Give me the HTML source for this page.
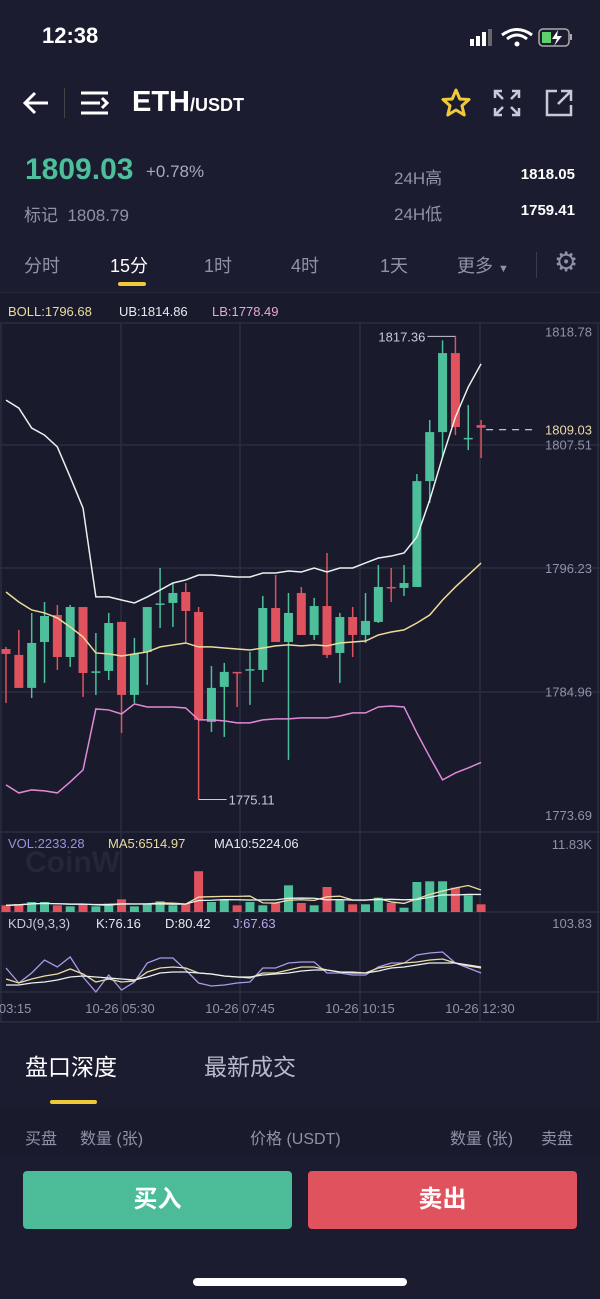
<!DOCTYPE html>
<html><head><meta charset="utf-8">
<style>
*{margin:0;padding:0;box-sizing:border-box}
body{width:600px;height:1299px;background:#1c1c30;font-family:"Liberation Sans","Noto Sans CJK SC",sans-serif;color:#fff;position:relative;overflow:hidden}
.a{position:absolute;white-space:nowrap}
.g{color:#8f92a8}
</style></head><body>
<div class="a" style="left:42px;top:23px;font-size:22px;font-weight:bold">12:38</div>
<svg class="a" style="left:468px;top:26px" width="110" height="24">
<rect x="2" y="13" width="4" height="7" fill="#fff"/><rect x="8" y="10" width="4" height="10" fill="#fff"/><rect x="14" y="6" width="4" height="14" fill="#fff"/><rect x="20" y="3" width="4" height="17" fill="#666"/>
<path d="M34 9 Q49 -2 64 9" stroke="#fff" stroke-width="3" fill="none"/><path d="M39 13 Q49 5 59 13" stroke="#fff" stroke-width="3" fill="none"/><circle cx="49" cy="18" r="2.5" fill="#fff"/>
<rect x="71" y="3" width="30" height="17" rx="4" stroke="#aaa" fill="none" stroke-width="1.5"/><rect x="74" y="6" width="9" height="11" fill="#5ed16a"/><path d="M90 4 L84 13 L89 13 L86 20 L94 10 L89 10 Z" fill="#fff"/><rect x="102" y="8" width="2" height="6" fill="#aaa"/>
</svg>
<svg class="a" style="left:22px;top:90px" width="28" height="26"><path d="M3 13 H26 M13 3 L3 13 L13 23" stroke="#fff" stroke-width="3" fill="none"/></svg>
<div class="a" style="left:64px;top:88px;width:1px;height:30px;background:#444"></div>
<svg class="a" style="left:80px;top:90px" width="30" height="26"><path d="M1 3H28M1 13H20M1 23H28M22 8L27 13L22 18" stroke="#fff" stroke-width="3" fill="none"/></svg>
<div class="a" style="left:132px;top:86px;font-size:29px;font-weight:bold">ETH<span style="font-size:18px">/USDT</span></div>
<svg class="a" style="left:441px;top:88px" width="30" height="30"><polygon points="15,2 18.8,11 28,11.5 21,17.8 23.2,27 15,22 6.8,27 9,17.8 2,11.5 11.2,11" fill="none" stroke="#f0c93a" stroke-width="3" stroke-linejoin="round"/></svg>
<svg class="a" style="left:493px;top:89px" width="28" height="28"><path d="M2 9V2H9M2 2L10 10M26 9V2H19M26 2L18 10M2 19V26H9M2 26L10 18M26 19V26H19M26 26L18 18" stroke="#c8cad8" stroke-width="2.5" fill="none"/></svg>
<svg class="a" style="left:544px;top:88px" width="30" height="30"><path d="M13 3H3V27H27V17M17 3H27V13M27 3L14 16" stroke="#c8cad8" stroke-width="2.5" fill="none"/></svg>
<div class="a" style="left:25px;top:153px;font-size:30px;font-weight:bold;color:#4dbf9a">1809.03</div>
<div class="a g" style="left:146px;top:162px;font-size:17px;color:#a8aabb">+0.78%</div>
<div class="a g" style="left:24px;top:201px;font-size:17px">标记 &nbsp;1808.79</div>
<div class="a g" style="left:394px;top:164px;font-size:17px">24H高</div>
<div class="a" style="right:25px;top:166px;font-size:15px;font-weight:bold">1818.05</div>
<div class="a g" style="left:394px;top:200px;font-size:17px">24H低</div>
<div class="a" style="right:25px;top:202px;font-size:15px;font-weight:bold">1759.41</div>
<div class="a g" style="left:24px;top:252px;font-size:18px">分时</div>
<div class="a" style="left:110px;top:252px;font-size:18px">15分</div>
<div class="a" style="left:118px;top:282px;width:28px;height:4px;border-radius:2px;background:#f0c93a"></div>
<div class="a g" style="left:204px;top:252px;font-size:18px">1时</div>
<div class="a g" style="left:291px;top:252px;font-size:18px">4时</div>
<div class="a g" style="left:380px;top:252px;font-size:18px">1天</div>
<div class="a g" style="left:457px;top:252px;font-size:18px">更多 <span style="font-size:11px">▼</span></div>
<div class="a" style="left:536px;top:252px;width:1px;height:26px;background:#3a3b50"></div>
<div class="a g" style="left:554px;top:247px;font-size:27px">⚙</div>

<svg id="chart" class="a" style="left:0;top:292px" width="600" height="732" viewBox="0 292 600 732"></svg>

<div class="a" style="left:25px;top:1048px;font-size:23px">盘口深度</div>
<div class="a g" style="left:204px;top:1048px;font-size:23px;color:#b8bacb">最新成交</div>
<div class="a" style="left:50px;top:1100px;width:47px;height:4px;border-radius:2px;background:#f0c93a"></div>
<div class="a" style="left:0;top:1110px;width:600px;height:45px;background:#1a1a2d"></div>
<div class="a g" style="left:25px;top:1125px;font-size:16px">买盘</div>
<div class="a g" style="left:80px;top:1125px;font-size:16px">数量 (张)</div>
<div class="a g" style="left:250px;top:1125px;font-size:16px">价格 (USDT)</div>
<div class="a g" style="left:450px;top:1125px;font-size:16px">数量 (张)</div>
<div class="a g" style="left:541px;top:1125px;font-size:16px">卖盘</div>
<div class="a" style="left:23px;top:1171px;width:269px;height:58px;border-radius:4px;background:#4bbb98;text-align:center;line-height:58px;font-size:24px;font-weight:bold">买入</div>
<div class="a" style="left:308px;top:1171px;width:269px;height:58px;border-radius:4px;background:#e0525e;text-align:center;line-height:58px;font-size:24px;font-weight:bold">卖出</div>
<div class="a" style="left:193px;top:1278px;width:214px;height:8px;border-radius:4px;background:#fff"></div>

<script>
const opens=[1788.84,1788.30,1785.29,1789.48,1791.94,1788.11,1792.67,1786.75,1786.84,1791.31,1784.65,1788.57,1792.95,1793.04,1794.04,1792.22,1782.19,1785.38,1786.75,1786.93,1786.93,1792.58,1789.48,1793.95,1790.12,1792.76,1788.48,1791.76,1790.12,1791.31,1794.50,1794.41,1794.50,1804.16,1808.63,1815.84,1808.0,1809.27];
const highs=[1789.03,1790.58,1792.13,1793.13,1792.86,1792.86,1792.67,1790.30,1792.13,1791.31,1789.85,1792.67,1796.23,1794.86,1794.86,1792.67,1787.29,1787.57,1786.75,1788.57,1793.68,1795.59,1793.95,1794.5,1793.5,1797.60,1792.13,1792.67,1793.95,1796.50,1796.23,1796.50,1804.80,1809.73,1817.0,1817.36,1811.10,1809.73];
const lows=[1783.92,1785.29,1784.37,1785.74,1786.93,1787.20,1784.47,1784.65,1786.02,1781.18,1783.92,1785.56,1790.76,1790.85,1789.39,1775.11,1781.27,1780.82,1783.55,1783.74,1785.83,1789.48,1778.72,1790.12,1789.66,1788.02,1785.74,1788.11,1789.39,1791.21,1793.13,1793.68,1794.50,1802.16,1806.35,1808.36,1806.99,1806.26];
const closes=[1788.39,1785.29,1789.39,1791.85,1788.11,1792.67,1786.65,1786.80,1791.21,1784.65,1788.39,1792.67,1793.0,1793.95,1792.31,1782.37,1785.29,1786.75,1786.70,1787.0,1792.58,1789.48,1792.13,1790.12,1792.76,1788.30,1791.76,1790.12,1791.40,1794.50,1794.45,1794.86,1804.16,1808.63,1815.84,1809.09,1808.1,1809.03];
const bollUB=[1811.55,1810.82,1809.0,1808.36,1807.27,1804.53,1801.70,1793.59,1793.59,1793.31,1793.04,1793.59,1794.22,1794.86,1795.14,1795.59,1795.59,1795.50,1795.41,1795.41,1795.77,1795.77,1795.96,1795.87,1796.23,1795.87,1796.23,1796.23,1796.69,1797.14,1797.32,1797.60,1799.06,1802.43,1806.35,1810.0,1812.74,1814.86];
const bollMID=[1794.04,1793.13,1792.40,1792.13,1791.67,1790.85,1789.94,1788.48,1788.39,1788.20,1788.39,1788.57,1789.03,1789.21,1789.39,1789.03,1789.03,1788.93,1788.84,1788.75,1788.93,1789.12,1789.21,1789.12,1789.21,1789.12,1789.39,1789.48,1789.57,1790.12,1790.39,1790.58,1791.21,1791.94,1793.31,1794.50,1795.59,1796.68];
const bollLB=[1776.44,1775.71,1775.98,1775.89,1775.71,1776.71,1777.81,1783.37,1783.28,1782.91,1783.83,1783.55,1783.55,1783.55,1783.46,1782.37,1782.37,1782.28,1782.10,1782.10,1782.37,1782.46,1782.46,1782.55,1782.55,1782.55,1782.73,1783.01,1783.01,1783.55,1783.64,1783.55,1781.18,1778.99,1776.90,1777.53,1777.99,1778.49];
const volumes=[1940,2230,2900,2900,1940,1650,2230,1650,2410,3680,1650,2410,3100,1940,2410,11830,2900,3570,1940,2900,1940,2610,7740,2610,1940,7250,3390,2230,2230,4150,2610,1250,8700,8900,8900,7050,4840,2233];
const kdjK=[60.8,54.4,60.8,65.6,68.8,76.8,68.8,56,60.8,56,57.6,72,78.4,80,78.4,70.4,68.8,65.6,64,62.4,70.4,70.4,75.2,80,80,75.2,72,72,70.4,78.4,81.6,86.4,88,91.2,92.8,86.4,81.6,78.4];
const kdjD=[51.2,51.2,54.4,56,59.2,64,65.6,64,62.4,60.8,59.2,64,70.4,72,72,70.4,68.8,65.6,64,64,67.2,68.8,70.4,73.6,75.2,75.2,72,70.4,70.4,73.6,78.4,80,83.2,86.4,86.4,86.4,83.2,80];
const kdjJ=[78.4,54.4,70.4,91.2,80,96,64,40,67.2,43.2,56,86.4,94.4,94.4,75.2,54.4,49.6,51.2,54.4,56,78.4,78.4,86.4,88,88,70.4,70.4,67.2,67.2,80,86.4,86.4,99.2,102.4,104,86.4,78.4,70.4];
const priceTicks=["1818.78","1796.23","1784.96","1773.69"];
const priceTickVals=[1818.78,1796.23,1784.96,1773.69];
const timeLabels=["10-26 03:15","10-26 05:30","10-26 07:45","10-26 10:15","10-26 12:30"];

const NS="http://www.w3.org/2000/svg";
const svg=document.getElementById('chart');
const xAt=i=>6+i*12.84;
const yP=p=>568-(p-1796.23)*10.96;
const yV=v=>912-v/290;
const yK=v=>967-(v-80)/1.6;
const GREEN="#4dbf9a",RED="#e0525e";
function mk(tag,attrs){const e=document.createElementNS(NS,tag);for(const k in attrs)e.setAttribute(k,attrs[k]);svg.appendChild(e);return e;}
function txt(x,y,s,fill,size,anchor){const t=mk('text',{x:x,y:y,fill:fill,'font-size':size,'font-family':'Liberation Sans, sans-serif','text-anchor':anchor||'start'});t.textContent=s;return t;}

let e=mk('rect',{x:0,y:292,width:600,height:732,fill:'#191a2c'});


[292,323,445,568,692,832,912,992,1022].forEach(y=>{const l=mk('line',{x1:0,x2:600,y1:y,y2:y,stroke:'#2b2c42','stroke-width':1.5});

});
[1,121,240,360,480,598].forEach(x=>{const l=mk('line',{x1:x,x2:x,y1:323,y2:1022,stroke:'#2b2c42','stroke-width':1.5});

});

e=txt(25,872,'CoinW','#24263a',30);


e.setAttribute('font-weight','bold');

e=txt(8,316,'BOLL:1796.68','#ecdca0',13);


e=txt(119,316,'UB:1814.86','#e8e8f0',13);


e=txt(212,316,'LB:1778.49','#e9a6d8',13);



priceTicks.forEach((s,i)=>{const t=txt(592,(i===0?yP(1817.8):yP(priceTickVals[i]))+5,s,'#8f92a8',13,'end');

});
e=txt(592,yP(1807.5)+5,'1807.51','#8f92a8',13,'end');



function line(arr,yf,color,name,w){const pts=arr.map((v,i)=>xAt(i)+','+yf(v)).join(' ');const p=mk('polyline',{points:pts,fill:'none',stroke:color,'stroke-width':w||1.5});

}

opens.forEach((o,i)=>{const c=closes[i];const col=c>=o?GREEN:RED;const x=xAt(i);
const w=mk('line',{x1:x,x2:x,y1:yP(highs[i]),y2:yP(lows[i]),stroke:col,'stroke-width':1.5});


const top=yP(Math.max(o,c)),bot=yP(Math.min(o,c));
const b=mk('rect',{x:x-4.5,y:top,width:9,height:Math.max(1.5,bot-top),fill:col});

});

line(bollUB,yP,'#e8f2ee','boll-upper-line');
line(bollMID,yP,'#ecdc9a','boll-mid-line');
line(bollLB,yP,'#e08ad6','boll-lower-line');

let hi=0,lo=0;highs.forEach((h,i)=>{if(h>highs[hi])hi=i});lows.forEach((l,i)=>{if(l<lows[lo])lo=i});
e=mk('line',{x1:xAt(hi)-28,x2:xAt(hi),y1:yP(highs[hi]),y2:yP(highs[hi]),stroke:'#c8cad8','stroke-width':1});


e=txt(xAt(hi)-30,yP(highs[hi])+5,highs[hi].toFixed(2),'#c8cad8',13,'end');


e=mk('line',{x1:xAt(lo),x2:xAt(lo)+28,y1:yP(lows[lo]),y2:yP(lows[lo]),stroke:'#c8cad8','stroke-width':1});


e=txt(xAt(lo)+30,yP(lows[lo])+5,lows[lo].toFixed(2),'#c8cad8',13);



const last=closes[closes.length-1];
e=mk('line',{x1:xAt(closes.length-1)+5,x2:536,y1:yP(last)+2,y2:yP(last)+2,stroke:'#d8d8e0','stroke-width':1.2,'stroke-dasharray':'7,6'});


e=mk('rect',{x:537,y:yP(last)-7,width:58,height:17,fill:'#191a2c'});


e=txt(592,yP(last)+7,last.toFixed(2),'#ecd9a6',13,'end');



e=txt(8,848,'VOL:2233.28','#9d8fe0',13);


e=txt(108,848,'MA5:6514.97','#ecdca0',13);


e=txt(214,848,'MA10:5224.06','#e8e8f0',13);


e=txt(592,849,'11.83K','#8f92a8',13,'end');


volumes.forEach((v,i)=>{const col=closes[i]>=opens[i]?GREEN:RED;
const r=mk('rect',{x:xAt(i)-4.5,y:yV(v),width:9,height:912-yV(v),fill:col});

});
function ma(arr,n){return arr.map((v,i)=>{const s=arr.slice(Math.max(0,i-n+1),i+1);return s.reduce((a,b)=>a+b,0)/s.length;});}
line(ma(volumes,5),yV,'#ecdca0','vol-ma5-line',1.3);
line(ma(volumes,10),yV,'#e8f2ee','vol-ma10-line',1.3);

e=txt(8,928,'KDJ(9,3,3)','#c8cad8',13);


e=txt(96,928,'K:76.16','#e8e8f0',13);


e=txt(165,928,'D:80.42','#e8e8f0',13);


e=txt(233,928,'J:67.63','#b7a8ea',13);


e=txt(592,928,'103.83','#8f92a8',13,'end');


line(kdjJ,yK,'#a99be6','kdj-j-line',1.3);
line(kdjK,yK,'#ecdca0','kdj-k-line',1.3);
line(kdjD,yK,'#e8f2ee','kdj-d-line',1.3);

[0,120,240,360,480].forEach((x,i)=>{const t=txt(x,1013,timeLabels[i],'#8f92a8',13,i===0?'start':'middle');
if(i===0){t.setAttribute('x',-38);}

});
</script>
</body></html>
